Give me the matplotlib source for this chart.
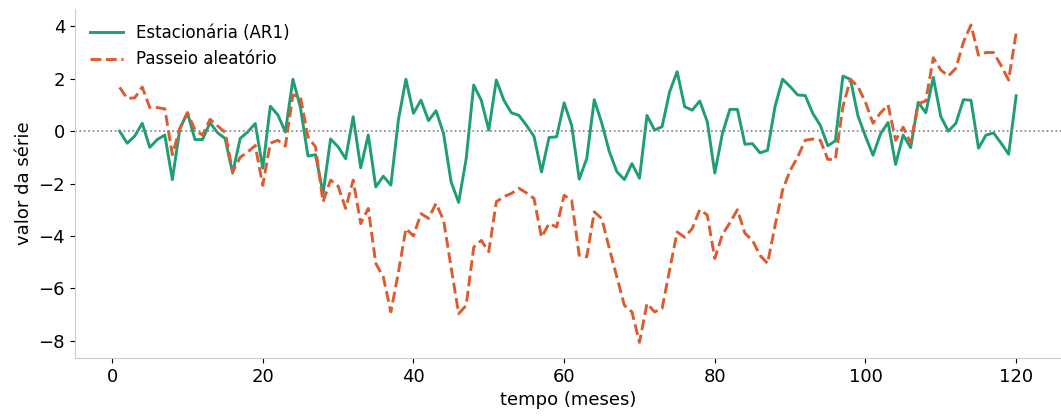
import numpy as np
import matplotlib.pyplot as plt

meses = np.arange(1, 121)

# serie estacionaria AR(1)
ar1 = [0.0, -0.46, -0.19, 0.3, -0.62, -0.32, -0.15, -1.85, 0.1, 0.7,
       -0.32, -0.32, 0.32, -0.06, -0.28, -1.6, -0.28, -0.03, 0.29, -1.42,
       0.95, 0.62, -0.03, 1.98, 0.9, -0.95, -0.9, -2.38, -0.3, -0.6,
       -1.05, 0.55, -1.4, -0.15, -2.13, -1.72, -2.06, 0.42, 1.98, 0.68,
       1.18, 0.4, 0.78, -0.1, -1.94, -2.72, -1.05, 1.76, 1.18, 0.04,
       1.95, 1.18, 0.7, 0.6, 0.22, -0.2, -1.56, -0.24, -0.22, 1.08,
       0.22, -1.83, -1.05, 1.2, 0.3, -0.78, -1.55, -1.85, -1.24, -1.8,
       0.6, 0.04, 0.17, 1.5, 2.27, 0.93, 0.8, 1.15, 0.36, -1.6,
       -0.1, 0.83, 0.83, -0.5, -0.48, -0.83, -0.73, 0.95, 1.98, 1.7,
       1.38, 1.36, 0.68, 0.22, -0.56, -0.37, 2.1, 1.98, 0.58, -0.2,
       -0.92, -0.1, 0.33, -1.27, -0.15, -0.63, 1.1, 0.7, 2.05, 0.55,
       0.0, 0.3, 1.2, 1.18, -0.65, -0.15, -0.07, -0.46, -0.88, 1.35]

# passeio aleatorio
passeio = [1.67, 1.25, 1.27, 1.68, 0.9, 0.9, 0.85, -0.9, 0.1, 0.7,
           0.05, -0.15, 0.45, 0.2, -0.05, -1.55, -1.0, -0.8, -0.55, -2.07,
           -0.46, -0.35, -0.57, 1.38, 1.3, -0.22, -0.6, -2.7, -1.87, -2.1,
           -2.95, -1.87, -3.53, -2.95, -5.05, -5.57, -6.9, -5.4, -3.72, -4.0,
           -3.15, -3.33, -2.76, -3.4, -5.2, -6.97, -6.65, -4.43, -4.17, -4.6,
           -2.7, -2.5, -2.38, -2.18, -2.36, -2.57, -4.05, -3.53, -3.66, -2.45,
           -2.64, -4.74, -4.8, -3.08, -3.34, -4.48, -5.57, -6.65, -6.9, -8.06,
           -6.58, -6.9, -6.77, -5.3, -3.85, -4.05, -3.72, -3.0, -3.2, -4.86,
           -3.95, -3.5, -3.0, -3.9, -4.17, -4.74, -5.05, -3.6, -2.25, -1.5,
           -0.99, -0.35, -0.3, -0.35, -1.08, -1.08, 0.93, 1.98, 1.7, 1.1,
           0.3, 0.7, 1.0, -0.35, 0.15, -0.45, 1.05, 1.15, 2.8, 2.33,
           2.1, 2.4, 3.4, 4.05, 2.9, 3.0, 3.0, 2.5, 1.95, 3.75]

fig, ax = plt.subplots(figsize=(10.61, 4.16), dpi=100)
ax.plot(meses, ar1, color='#1f9e76', lw=2.1, label='Estacionária (AR1)')
ax.plot(meses, passeio, color='#dd5b30', lw=2.1, ls='--', label='Passeio aleatório')
ax.axhline(0, color='grey', lw=1.2, ls=':')

ax.set_xlabel('tempo (meses)', fontsize=13)
ax.set_ylabel('valor da série', fontsize=13)
ax.tick_params(labelsize=13)
ax.set_xticks([0, 20, 40, 60, 80, 100, 120])
ax.set_yticks([-8, -6, -4, -2, 0, 2, 4])
for s in ['top', 'right']:
    ax.spines[s].set_visible(False)
for s in ['left', 'bottom']:
    ax.spines[s].set_color('#cccccc')
ax.legend(loc='upper left', frameon=False, fontsize=12)

plt.subplots_adjust(left=0.0705, right=1.0, top=0.978, bottom=0.139)
plt.savefig('out.png')
